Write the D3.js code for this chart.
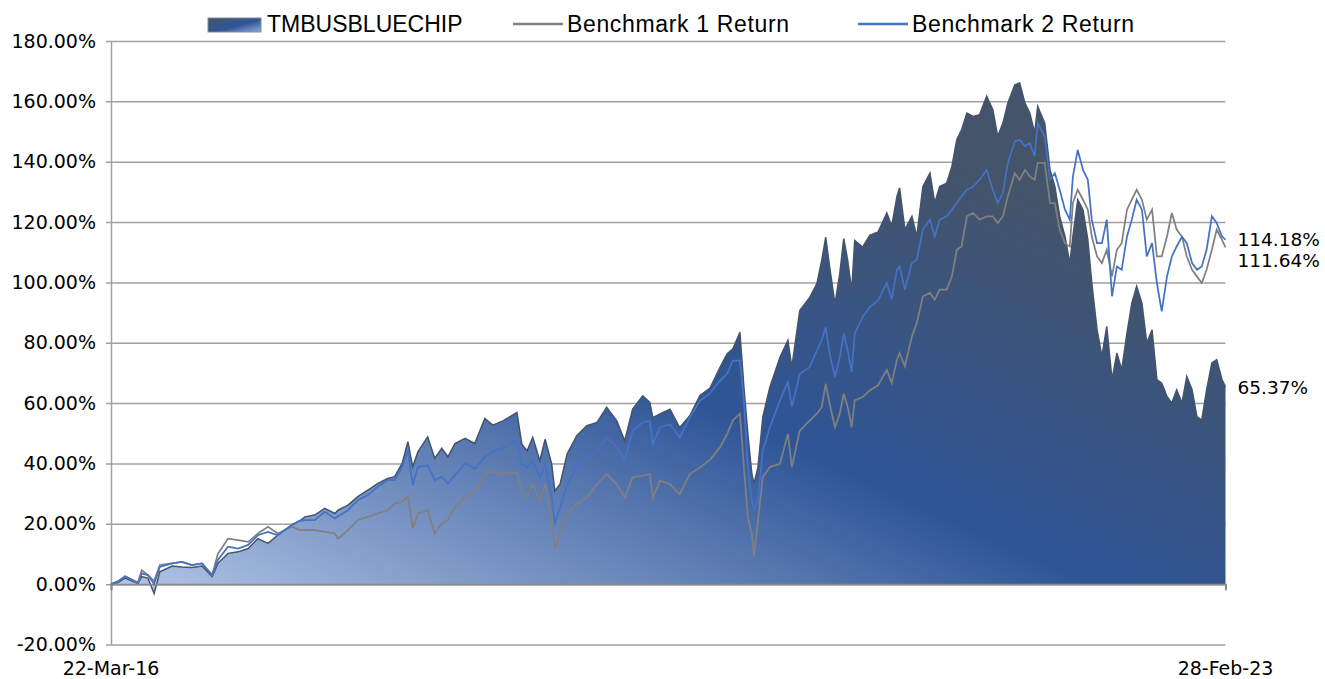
<!DOCTYPE html>
<html>
<head>
<meta charset="utf-8">
<script src="https://cdn.jsdelivr.net/npm/d3@7"></script>
<style>
  body { margin: 0; background: #fff; }
  svg { display: block; }
</style>
</head>
<body>
<svg id="chart"></svg>
<script>
// Sample dates (roughly every 1-3 weeks)
const dates = [
  "2016-03-22", "2016-04-07", "2016-04-23", "2016-05-09", "2016-05-22", "2016-05-31", "2016-06-14", "2016-06-28", "2016-07-11", "2016-08-08",
  "2016-08-30", "2016-09-22", "2016-10-15", "2016-11-07", "2016-11-20", "2016-12-13", "2017-01-05", "2017-01-28", "2017-02-19", "2017-03-14",
  "2017-04-05", "2017-05-07", "2017-05-25", "2017-06-06", "2017-06-28", "2017-07-21", "2017-08-13", "2017-08-20", "2017-09-12", "2017-10-04",
  "2017-10-27", "2017-11-19", "2017-12-11", "2017-12-27", "2018-01-13", "2018-01-26", "2018-02-06", "2018-02-18", "2018-03-12", "2018-03-28",
  "2018-04-13", "2018-04-27", "2018-05-13", "2018-06-05", "2018-06-27", "2018-07-20", "2018-08-07", "2018-08-30", "2018-10-01", "2018-10-12",
  "2018-10-24", "2018-11-06", "2018-11-22", "2018-12-04", "2018-12-19", "2018-12-26", "2019-01-07", "2019-01-23", "2019-02-14", "2019-03-09",
  "2019-04-01", "2019-04-23", "2019-05-16", "2019-06-03", "2019-06-21", "2019-07-14", "2019-07-30", "2019-08-06", "2019-08-22", "2019-09-14",
  "2019-10-06", "2019-10-29", "2019-11-21", "2019-12-14", "2020-01-06", "2020-01-22", "2020-02-04", "2020-02-20", "2020-02-29", "2020-03-09",
  "2020-03-18", "2020-03-23", "2020-04-01", "2020-04-12", "2020-04-28", "2020-05-21", "2020-06-08", "2020-06-17", "2020-07-05", "2020-07-28",
  "2020-08-13", "2020-08-24", "2020-09-02", "2020-09-11", "2020-09-23", "2020-10-04", "2020-10-13", "2020-10-22", "2020-10-31", "2020-11-07",
  "2020-11-25", "2020-12-11", "2020-12-30", "2021-01-19", "2021-01-30", "2021-02-11", "2021-02-17", "2021-03-01", "2021-03-17", "2021-03-28",
  "2021-04-11", "2021-04-27", "2021-05-08", "2021-05-19", "2021-06-04", "2021-06-16", "2021-06-27", "2021-07-08", "2021-07-20", "2021-08-03",
  "2021-08-18", "2021-09-03", "2021-09-17", "2021-09-28", "2021-10-10", "2021-10-21", "2021-11-06", "2021-11-17", "2021-11-29", "2021-12-10",
  "2021-12-21", "2021-12-28", "2022-01-13", "2022-01-25", "2022-02-05", "2022-02-16", "2022-02-28", "2022-03-11", "2022-03-18", "2022-03-29",
  "2022-04-10", "2022-04-21", "2022-04-30", "2022-05-12", "2022-05-23", "2022-06-03", "2022-06-15", "2022-06-26", "2022-07-07", "2022-07-19",
  "2022-07-30", "2022-08-10", "2022-08-22", "2022-09-02", "2022-09-14", "2022-09-25", "2022-10-06", "2022-10-18", "2022-10-29", "2022-11-09",
  "2022-11-21", "2022-12-02", "2022-12-14", "2022-12-25", "2023-01-05", "2023-01-16", "2023-01-28", "2023-02-08", "2023-02-20", "2023-02-28"
];

// TMBUSBLUECHIP cumulative return (%)
const fundReturn = [
  0, 0.5, 2.0, 1.0, 0.3, 2.5, 2.0, -3.1, 4.1, 6.0,
  5.7, 5.5, 6.0, 2.5, 6.9, 10.2, 10.7, 11.8, 15.1, 13.5,
  16.2, 19.6, 21.0, 22.3, 22.9, 25.1, 23.4, 24.5, 26.2, 29.0,
  31.2, 33.4, 35.0, 35.6, 40.0, 47.2, 38.9, 43.9, 48.8, 41.7,
  45.0, 42.2, 46.6, 48.3, 46.6, 54.9, 52.7, 54.1, 56.9, 46.4,
  44.2, 48.6, 40.9, 48.0, 39.8, 30.9, 33.1, 43.1, 49.2, 52.5,
  53.6, 58.6, 54.1, 47.5, 58.0, 62.4, 60.2, 55.2, 56.4, 58.0,
  51.9, 55.8, 62.5, 65.0, 71.9, 76.4, 78.0, 83.5, 65.3, 49.8,
  36.6, 33.3, 38.8, 55.4, 65.3, 75.2, 80.8, 71.9, 90.7, 95.1,
  99.6, 107.3, 115.0, 105.1, 92.9, 102.9, 114.5, 107.3, 97.3, 113.9,
  111.7, 115.6, 116.7, 123.0, 118.6, 128.5, 131.3, 117.5, 121.9, 115.2,
  131.8, 136.2, 126.3, 131.8, 132.9, 138.5, 147.3, 150.6, 156.1, 155.0,
  155.6, 161.7, 157.2, 148.4, 152.8, 159.4, 165.5, 166.1, 159.4, 156.1,
  149.5, 158.3, 152.8, 137.3, 131.8, 121.9, 115.2, 106.4, 115.2, 127.4,
  124.1, 114.1, 99.8, 84.3, 75.5, 85.4, 67.8, 76.6, 71.1, 83.2,
  93.1, 98.7, 93.1, 79.9, 84.3, 67.8, 66.6, 62.2, 60.0, 64.4,
  60.0, 68.8, 64.4, 55.5, 54.4, 64.4, 73.3, 74.4, 67.8, 65.37
];

// Benchmark 1 Return (%)
const bench1Return = [
  0, 1.0, 2.6, 1.5, 0.5, 4.6, 3.0, 1.0, 6.3, 6.9,
  7.4, 6.3, 6.9, 3.0, 10.0, 15.1, 14.6, 14.0, 16.8, 19.0,
  16.8, 19.0, 18.0, 17.9, 17.9, 17.3, 16.8, 15.1, 17.9, 21.2,
  22.3, 23.4, 24.5, 26.7, 27.3, 29.0, 18.5, 23.4, 24.5, 16.8,
  20.1, 21.2, 25.6, 29.0, 30.1, 36.7, 37.2, 36.5, 37.0, 30.9,
  28.7, 33.1, 27.6, 33.1, 22.1, 11.6, 17.7, 23.2, 26.5, 28.7,
  33.1, 36.5, 33.1, 28.7, 35.4, 35.9, 36.5, 28.7, 34.3, 33.1,
  29.8, 36.5, 38.7, 41.2, 45.4, 49.8, 54.3, 56.5, 38.8, 22.2,
  16.7, 9.0, 21.1, 35.5, 38.8, 39.9, 49.8, 38.8, 50.9, 54.3,
  56.5, 58.7, 66.4, 59.8, 52.0, 56.5, 63.1, 58.7, 52.0, 60.9,
  62.0, 64.2, 65.9, 71.0, 66.6, 74.4, 76.6, 72.2, 82.1, 86.5,
  95.4, 96.5, 94.3, 97.6, 97.6, 102.0, 110.8, 111.9, 121.9, 123.0,
  120.8, 121.9, 121.9, 119.7, 121.9, 128.5, 136.2, 134.0, 137.3, 135.1,
  134.0, 139.6, 139.6, 126.3, 126.3, 117.5, 113.0, 111.9, 126.3, 130.7,
  127.4, 124.1, 115.2, 108.6, 106.4, 110.8, 102.0, 110.8, 113.0, 124.1,
  127.4, 130.7, 127.4, 120.8, 124.1, 108.6, 108.6, 115.2, 123.0, 117.5,
  115.2, 108.6, 104.2, 102.0, 99.8, 104.2, 110.8, 117.5, 114.1, 111.64
];

// Benchmark 2 Return (%)
const bench2Return = [
  0, 0.8, 2.6, 1.3, 0.2, 3.5, 3.0, 0.0, 5.7, 6.9,
  7.4, 6.3, 6.9, 3.0, 8.0, 12.4, 11.8, 13.0, 16.2, 17.3,
  16.2, 19.6, 21.0, 21.2, 21.2, 24.0, 21.8, 22.5, 24.5, 27.8,
  29.5, 32.3, 34.5, 34.5, 38.9, 44.4, 32.8, 38.9, 39.4, 34.5,
  35.6, 33.4, 36.1, 40.0, 38.3, 42.2, 43.9, 45.3, 47.5, 39.8,
  38.7, 40.9, 35.4, 39.8, 28.7, 19.9, 25.4, 33.1, 38.7, 42.0,
  44.2, 48.6, 45.3, 40.9, 50.8, 53.6, 54.1, 46.4, 51.9, 53.0,
  48.6, 55.2, 60.8, 63.3, 67.5, 69.7, 74.1, 74.1, 60.9, 38.8,
  27.7, 24.4, 27.7, 44.3, 52.0, 60.9, 67.0, 58.7, 69.7, 72.0,
  77.5, 80.8, 85.2, 76.4, 68.6, 75.2, 83.0, 77.5, 70.3, 83.0,
  88.5, 91.8, 94.0, 99.8, 94.3, 104.2, 105.3, 97.6, 106.4, 107.5,
  117.5, 120.8, 115.2, 120.8, 121.9, 124.1, 126.3, 128.5, 130.7, 131.8,
  134.0, 137.3, 130.7, 126.3, 129.6, 139.6, 146.7, 147.3, 145.1, 146.2,
  141.8, 152.8, 148.4, 134.0, 136.2, 130.7, 124.1, 120.8, 135.1, 143.9,
  137.3, 134.0, 120.8, 113.0, 113.0, 120.8, 95.4, 105.3, 104.2, 115.2,
  120.8, 127.4, 124.1, 108.6, 113.0, 99.8, 90.4, 102.0, 108.6, 111.9,
  115.2, 113.0, 106.4, 104.2, 105.3, 110.8, 121.9, 119.7, 115.2, 114.18
];

const seriesNames = ["TMBUSBLUECHIP", "Benchmark 1 Return", "Benchmark 2 Return"];
const yTicks = [-20, 0, 20, 40, 60, 80, 100, 120, 140, 160, 180];
const xTickLabels = ["22-Mar-16", "28-Feb-23"];

const parseDate = d3.timeParse("%Y-%m-%d");
const rows = dates.map((d, i) => ({
    date: parseDate(d),
    fund: fundReturn[i],
    b1: bench1Return[i],
    b2: bench2Return[i]
}));

// Chart size and plot margins
const width = 1325, height = 679;
const margin = { top: 41, right: 99.5, bottom: 34.5, left: 111 };
const plotW = width - margin.left - margin.right;
const plotH = height - margin.top - margin.bottom;

const svg = d3.select("#chart")
    .attr("width", width)
    .attr("height", height);

// Gradient for the fund area (light blue bottom-left -> navy -> slate top-right)
const defs = svg.append("defs");
const grad = defs.append("linearGradient")
    .attr("id", "fundFill")
    .attr("x1", 0).attr("y1", 1)
    .attr("x2", 1).attr("y2", 0);
grad.append("stop").attr("offset", "0%").attr("stop-color", "#b4c7e7");
grad.append("stop").attr("offset", "45%").attr("stop-color", "#2f5597");
grad.append("stop").attr("offset", "80%").attr("stop-color", "#44546a");
grad.append("stop").attr("offset", "100%").attr("stop-color", "#44546a");

const swatchGrad = defs.append("linearGradient")
    .attr("id", "swatchFill")
    .attr("x1", 0).attr("y1", 0)
    .attr("x2", 1).attr("y2", 1);
swatchGrad.append("stop").attr("offset", "0%").attr("stop-color", "#44546a");
swatchGrad.append("stop").attr("offset", "55%").attr("stop-color", "#2f5597");
swatchGrad.append("stop").attr("offset", "100%").attr("stop-color", "#8faadc");

const g = svg.append("g")
    .attr("transform", "translate(" + margin.left + "," + margin.top + ")");

// Scales
const x = d3.scaleTime()
    .domain(d3.extent(rows, d => d.date))
    .range([0, plotW]);

const y = d3.scaleLinear()
    .domain([-20, 180])
    .range([plotH, 0]);

// Y axis with horizontal gridlines
const yAxis = g.append("g")
    .call(d3.axisLeft(y)
        .tickValues(yTicks)
        .tickSizeInner(-plotW)
        .tickSizeOuter(0)
        .tickPadding(15)
        .tickFormat(d => d.toFixed(2) + "%"));

yAxis.select(".domain").attr("stroke", "#a0a0a0").attr("stroke-width", 1.5);
yAxis.selectAll(".tick line")
    .attr("x1", -5)
    .attr("stroke", "#a0a0a0")
    .attr("stroke-width", 1.5);
yAxis.selectAll(".tick text")
    .attr("fill", "#000")
    .style("font-family", "'DejaVu Sans', sans-serif")
    .style("font-size", "19px");

// Fund area
const area = d3.area()
    .x(d => x(d.date))
    .y0(y(0))
    .y1(d => y(d.fund));

g.append("path")
    .datum(rows)
    .attr("d", area)
    .attr("fill", "url(#fundFill)");

g.append("path")
    .datum(rows)
    .attr("d", d3.line().x(d => x(d.date)).y(d => y(d.fund)))
    .attr("fill", "none")
    .attr("stroke", "#44546a")
    .attr("stroke-width", 1.5);

// X axis line at 0%
const xAxis = g.append("g")
    .attr("transform", "translate(0," + y(0) + ")")
    .call(d3.axisBottom(x)
        .tickValues(x.domain())
        .tickSize(6)
        .tickFormat(""));
xAxis.selectAll("line, path").attr("stroke", "#8c8c8c").attr("stroke-width", 1.75);

// Benchmark lines
g.append("path")
    .datum(rows)
    .attr("d", d3.line().x(d => x(d.date)).y(d => y(d.b1)))
    .attr("fill", "none")
    .attr("stroke", "#808080")
    .attr("stroke-width", 1.75);

g.append("path")
    .datum(rows)
    .attr("d", d3.line().x(d => x(d.date)).y(d => y(d.b2)))
    .attr("fill", "none")
    .attr("stroke", "#4472c4")
    .attr("stroke-width", 1.75);

// Date labels under the plot
g.selectAll(".xlabel")
    .data(x.domain())
    .enter().append("text")
    .attr("class", "xlabel")
    .attr("x", d => x(d))
    .attr("y", plotH + 30)
    .attr("text-anchor", "middle")
    .style("font-family", "'DejaVu Sans', sans-serif")
    .style("font-size", "19px")
    .text((d, i) => xTickLabels[i]);

// End-of-series value labels, nudged apart when they collide
const last = rows[rows.length - 1];
const endLabels = [
    { v: last.b2 },
    { v: last.b1 },
    { v: last.fund }
].map(d => ({ v: d.v, ty: y(d.v) }));
endLabels.sort((a, b) => a.ty - b.ty);
for (let i = 1; i < endLabels.length; i++) {
    if (endLabels[i].ty - endLabels[i - 1].ty < 21) {
        endLabels[i].ty = endLabels[i - 1].ty + 21;
    }
}
g.selectAll(".endlabel")
    .data(endLabels)
    .enter().append("text")
    .attr("class", "endlabel")
    .attr("x", plotW + 12)
    .attr("y", d => d.ty)
    .attr("dy", "0.36em")
    .style("font-family", "'DejaVu Sans', sans-serif")
    .style("font-size", "18.5px")
    .text(d => d.v.toFixed(2) + "%");

// Legend
const legend = svg.append("g").attr("transform", "translate(0,24)");
const legendItems = [
    { name: seriesNames[0], x: 208, type: "area", spacing: 0 },
    { name: seriesNames[1], x: 513, type: "line", color: "#808080", spacing: 0.65 },
    { name: seriesNames[2], x: 858, type: "line", color: "#4472c4", spacing: 0.65 }
];
legendItems.forEach(item => {
    if (item.type === "area") {
        legend.append("rect")
            .attr("x", item.x).attr("y", -6)
            .attr("width", 53).attr("height", 14)
            .attr("fill", "url(#swatchFill)")
            .attr("stroke", "#7f8a9c")
            .attr("stroke-width", 1);
    } else {
        legend.append("line")
            .attr("x1", item.x).attr("x2", item.x + 50)
            .attr("y1", 0).attr("y2", 0)
            .attr("stroke", item.color)
            .attr("stroke-width", 2.5);
    }
    legend.append("text")
        .attr("x", item.type === "area" ? item.x + 59 : item.x + 54)
        .attr("y", 8.3)
        .style("font-family", "'Liberation Sans', Arial, sans-serif")
        .style("font-size", "23px")
        .style("letter-spacing", item.spacing + "px")
        .attr("fill", "#000")
        .text(item.name);
});
</script>
</body>
</html>
